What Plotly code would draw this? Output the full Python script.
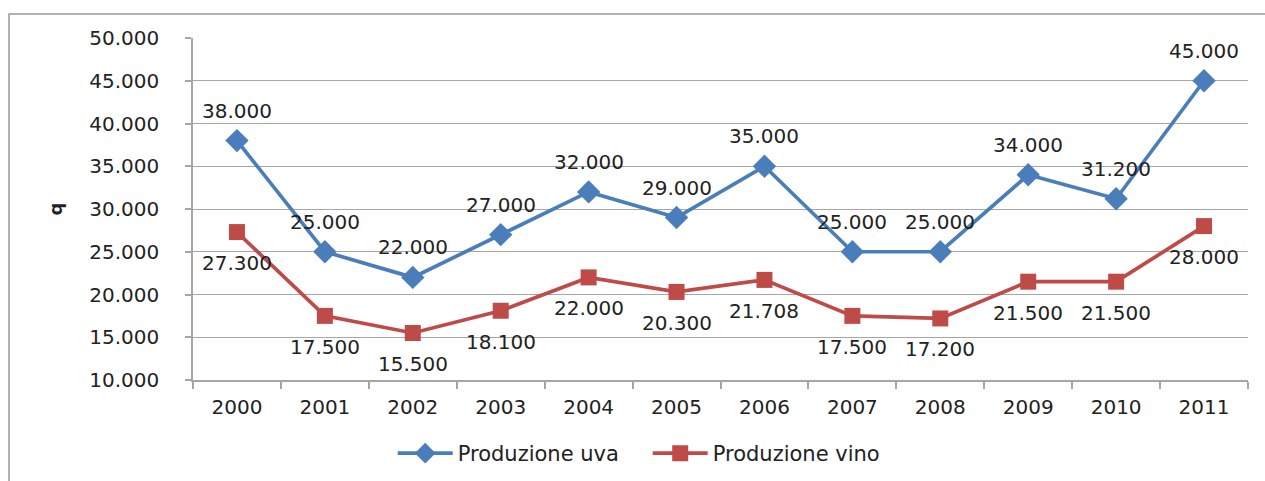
import plotly.graph_objects as go

# ─────────────────────────────────────────────────────────────────────────────
# DATA
# ─────────────────────────────────────────────────────────────────────────────
anni = ['2000', '2001', '2002', '2003', '2004', '2005',
        '2006', '2007', '2008', '2009', '2010', '2011']
prod_uva = [38000, 25000, 22000, 27000, 32000, 29000,
            35000, 25000, 25000, 34000, 31200, 45000]
prod_vino = [27300, 17500, 15500, 18100, 22000, 20300,
             21708, 17500, 17200, 21500, 21500, 28000]

BLUE = '#4a7ebb'; RED = '#be4b48'; GRID = '#a6a6a6'; TXT = '#222222'
FONT = 'DejaVu Sans'

fig = go.Figure()
fig.add_trace(go.Scatter(
    x=anni, y=prod_uva, name='Produzione uva', mode='lines+markers',
    line=dict(color=BLUE, width=3.7),
    marker=dict(symbol='diamond', size=18, color=BLUE),
))
fig.add_trace(go.Scatter(
    x=anni, y=prod_vino, name='Produzione vino', mode='lines+markers',
    line=dict(color=RED, width=3.7),
    marker=dict(symbol='square', size=16, color=RED),
))

# data labels: uva above, vino below
for serie, shift in ((prod_uva, 30), (prod_vino, -31)):
    for i, v in enumerate(serie):
        fig.add_annotation(x=i, y=v, xref='x', yref='y',
                           text=f'{v:,.0f}'.replace(',', '.'),
                           showarrow=False, yshift=shift,
                           font=dict(family=FONT, size=20, color=TXT))

# outer chart frame
fig.add_shape(type='rect', xref='paper', yref='paper',
              x0=-0.1744, x1=1.05, y0=-0.5, y1=1.0702,
              line=dict(color='#999999', width=1.5), layer='below')

fig.update_layout(
    width=1265, height=481,
    margin=dict(l=193, r=17, t=38, b=101, autoexpand=False),
    paper_bgcolor='white', plot_bgcolor='white',
    separators=',.',
    font=dict(family=FONT, size=20, color=TXT),
    showlegend=True,
    legend=dict(orientation='h', x=0.431, xanchor='center', y=-0.155, yanchor='top',
                font=dict(family=FONT, size=21, color=TXT),
                itemwidth=55, entrywidth=185, tracegroupgap=0),
)
fig.update_xaxes(
    type='category', range=[-0.5, 11.5],
    showline=True, linecolor=GRID, linewidth=1.5,
    showgrid=False, ticks='outside', tickson='boundaries',
    ticklen=7, tickcolor=GRID, tickwidth=1.5,
    ticklabelstandoff=8,
    tickfont=dict(family=FONT, size=20, color=TXT),
)
fig.update_yaxes(
    range=[10000, 50000], dtick=5000, tickformat=',.0f',
    showline=True, linecolor=GRID, linewidth=1.5,
    showgrid=True, gridcolor=GRID, gridwidth=1.2,
    ticks='outside', ticklen=6, tickcolor=GRID, tickwidth=1.5,
    ticklabelstandoff=22,
    tickfont=dict(family=FONT, size=20, color=TXT),
    title=dict(text='<b>q</b>', font=dict(family=FONT, size=18, color=TXT), standoff=22),
    zeroline=False,
)

fig.write_html('out.html', config={'displayModeBar': False},
               post_script="document.body.style.margin='0';")
